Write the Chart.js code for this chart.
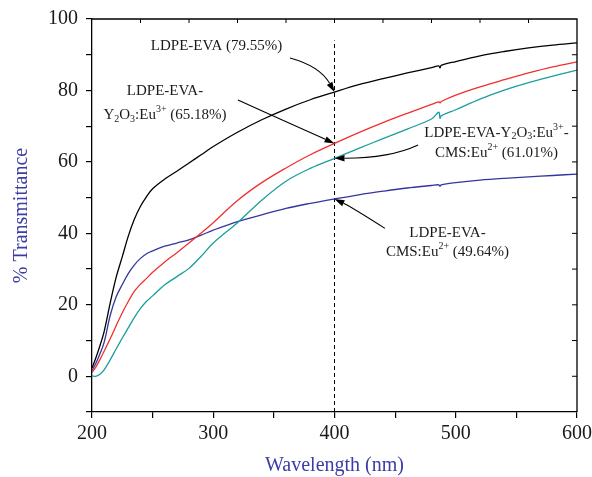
<!DOCTYPE html>
<html>
<head>
<meta charset="utf-8">
<script src="https://cdn.jsdelivr.net/npm/chart.js@4.4.0/dist/chart.umd.min.js"></script>
<style>
  html, body { margin: 0; padding: 0; background: #fff; }
  #wrap { width: 592px; height: 477px; position: relative; }
</style>
</head>
<body>
<div id="wrap"><canvas id="spectra"></canvas></div>
<script>
// Transmittance spectra, values
const wavelengths = [200, 203, 206, 210, 215, 220, 225, 230, 235, 240, 245, 250, 260, 270, 280, 290, 300, 320, 340, 360, 380, 400, 420, 440, 460, 480, 486, 487, 488, 500, 520, 540, 560, 580, 600];
const ldpeEva =      [2.3, 5, 8, 12.5, 20.5, 27.8, 33.5, 39.3, 44, 47.6, 50.3, 52.5, 55.2, 57.4, 59.7, 62, 64.3, 68.3, 71.8, 74.8, 77.4, 79.55, 81.6, 83.3, 84.9, 86.4, 86.9, 86.3, 87.0, 88.1, 89.7, 90.9, 91.9, 92.7, 93.3];
const ldpeEvaY =     [1.1, 2.5, 4.3, 7, 10.5, 14.2, 17.8, 21, 23.8, 25.8, 27.4, 29.1, 32, 34.6, 37.3, 40.1, 43, 49.2, 54.2, 58.3, 62, 65.18, 68.2, 71, 73.6, 76.1, 76.8, 76.5, 76.9, 78.7, 81, 83, 84.9, 86.6, 88];
const ldpeEvaYCms =  [0.1, 0, 0.4, 1.8, 4.6, 7.7, 10.7, 13.6, 16.5, 19, 21, 22.5, 25.6, 27.9, 30.2, 33.6, 37.3, 43, 49.3, 54.6, 58.2, 61.01, 63.8, 66.5, 69.2, 72, 73.9, 72.2, 72.9, 74.6, 77.6, 80.1, 82.2, 84.0, 85.7];
const ldpeEvaCms =   [1.6, 3.5, 5.8, 9.5, 17, 22.3, 25.7, 28.8, 31.2, 33.0, 34.3, 35.1, 36.4, 37.3, 38.2, 39.5, 40.9, 43.3, 45.2, 47, 48.4, 49.64, 50.8, 51.8, 52.7, 53.4, 53.6, 53.2, 53.6, 54.2, 54.9, 55.4, 55.8, 56.2, 56.6];

// dashed guide at 400 nm
const markerX = [400, 400];
const markerY = [-10, 94];

const FONT = '"Liberation Serif", "DejaVu Serif", serif';
const AXIS_BLUE = '#3c3ca6';

function toPoints(xs, ys) {
  return xs.map((x, i) => ({ x: x, y: ys[i] }));
}

// callouts: text lines (parts: [text, 'sup'|'sub'|undefined]) at data positions, arrow in data units
const callouts = [
  {
    lines: [{ at: [302.7, 92.3], parts: [['LDPE-EVA (79.55%)']] }],
    arrow: { from: [363.3, 89.1], ctrl: [388, 86.8], to: [400, 79.55] }
  },
  {
    lines: [
      { at: [260.2, 79.9], parts: [['LDPE-EVA-']] },
      { at: [260.2, 73.2], parts: [['Y'], ['2', 'sub'], ['O'], ['3', 'sub'], [':Eu'], ['3+', 'sup'], [' (65.18%)']] }
    ],
    arrow: { from: [320.4, 77.3], ctrl: [360, 71.2], to: [400, 65.18] }
  },
  {
    lines: [
      { at: [533.6, 68.2], parts: [['LDPE-EVA-Y'], ['2', 'sub'], ['O'], ['3', 'sub'], [':Eu'], ['3+', 'sup'], ['-']] },
      { at: [533.6, 62.4], parts: [['CMS:Eu'], ['2+', 'sup'], [' (61.01%)']] }
    ],
    arrow: { from: [468.9, 64.7], ctrl: [445.8, 61.0], to: [400, 61.01] }
  },
  {
    lines: [
      { at: [493.2, 40.1], parts: [['LDPE-EVA-']] },
      { at: [493.2, 34.7], parts: [['CMS:Eu'], ['2+', 'sup'], [' (49.64%)']] }
    ],
    arrow: { from: [441.6, 41.4], ctrl: [414.4, 47.3], to: [400, 49.64] }
  }
];

function drawRich(ctx, parts, cx, cy, size) {
  const small = Math.round(size * 0.66);
  let total = 0;
  parts.forEach(p => {
    ctx.font = (p[1] ? small : size) + 'px ' + FONT;
    total += ctx.measureText(p[0]).width;
  });
  let x = cx - total / 2;
  ctx.textAlign = 'left';
  ctx.textBaseline = 'middle';
  parts.forEach(p => {
    ctx.font = (p[1] ? small : size) + 'px ' + FONT;
    let dy = 0;
    if (p[1] === 'sup') dy = -size * 0.38;
    if (p[1] === 'sub') dy = size * 0.28;
    ctx.fillText(p[0], x, cy + dy);
    x += ctx.measureText(p[0]).width;
  });
}

const decorPlugin = {
  id: 'decor',
  afterDatasetsDraw(chart) {
    const ctx = chart.ctx;
    const xs = chart.scales.x, ys = chart.scales.y;
    const area = chart.chartArea;
    ctx.save();

    // frame with inward ticks on top and right
    ctx.strokeStyle = '#000';
    ctx.lineWidth = 1.3;
    ctx.beginPath();
    ctx.moveTo(area.left, area.top);
    ctx.lineTo(area.right, area.top);
    ctx.lineTo(area.right, area.bottom);
    ctx.stroke();
    ctx.lineWidth = 1;
    ctx.beginPath();
    for (let w = 240; w < 600; w += 40) {
      const px = xs.getPixelForValue(w);
      ctx.moveTo(px, area.top);
      ctx.lineTo(px, area.top + 4);
    }
    for (let v = 0; v < 100; v += 10) {
      const py = ys.getPixelForValue(v);
      ctx.moveTo(area.right, py);
      ctx.lineTo(area.right - 5, py);
    }
    ctx.stroke();

    // callouts
    ctx.fillStyle = '#1a1a1a';
    ctx.strokeStyle = '#000';
    callouts.forEach(c => {
      c.lines.forEach(l => {
        drawRich(ctx, l.parts, xs.getPixelForValue(l.at[0]), ys.getPixelForValue(l.at[1]), 15);
      });
      const a = c.arrow;
      const p0 = [xs.getPixelForValue(a.from[0]), ys.getPixelForValue(a.from[1])];
      const p1 = [xs.getPixelForValue(a.ctrl[0]), ys.getPixelForValue(a.ctrl[1])];
      const p2 = [xs.getPixelForValue(a.to[0]), ys.getPixelForValue(a.to[1])];
      const ang = Math.atan2(p2[1] - p1[1], p2[0] - p1[0]);
      const len = 10, half = 3.2;
      const bx = p2[0] - len * Math.cos(ang), by = p2[1] - len * Math.sin(ang);
      ctx.lineWidth = 1.1;
      ctx.beginPath();
      ctx.moveTo(p0[0], p0[1]);
      ctx.quadraticCurveTo(p1[0], p1[1], bx, by);
      ctx.stroke();
      ctx.beginPath();
      ctx.moveTo(p2[0], p2[1]);
      ctx.lineTo(bx + half * Math.sin(ang), by - half * Math.cos(ang));
      ctx.lineTo(bx - half * Math.sin(ang), by + half * Math.cos(ang));
      ctx.closePath();
      ctx.fillStyle = '#000';
      ctx.fill();
      ctx.fillStyle = '#1a1a1a';
    });

    // axis titles
    ctx.fillStyle = AXIS_BLUE;
    ctx.font = '20px ' + FONT;
    ctx.textAlign = 'center';
    ctx.textBaseline = 'middle';
    ctx.fillText('Wavelength (nm)', (area.left + area.right) / 2, 466);
    ctx.translate(22, (area.top + area.bottom) / 2);
    ctx.rotate(-Math.PI / 2);
    ctx.fillText('% Transmittance', 0, 0);
    ctx.restore();
  }
};

const lineStyle = { pointRadius: 0, borderWidth: 1.3, tension: 0.35, fill: false };

new Chart(document.getElementById('spectra').getContext('2d'), {
  type: 'line',
  data: {
    datasets: [
      Object.assign({ label: 'LDPE-EVA', data: toPoints(wavelengths, ldpeEva), borderColor: '#000000' }, lineStyle),
      Object.assign({ label: 'LDPE-EVA-Y2O3:Eu3+', data: toPoints(wavelengths, ldpeEvaY), borderColor: '#f03030' }, lineStyle),
      Object.assign({ label: 'LDPE-EVA-Y2O3:Eu3+-CMS:Eu2+', data: toPoints(wavelengths, ldpeEvaYCms), borderColor: '#1a9e9e' }, lineStyle),
      Object.assign({ label: 'LDPE-EVA-CMS:Eu2+', data: toPoints(wavelengths, ldpeEvaCms), borderColor: '#3535a0' }, lineStyle),
      {
        label: '400 nm',
        data: toPoints(markerX, markerY),
        borderColor: '#000',
        borderWidth: 1,
        borderDash: [4, 3],
        pointRadius: 0,
        fill: false
      }
    ]
  },
  options: {
    responsive: true,
    maintainAspectRatio: false,
    animation: false,
    layout: { padding: { top: 19, right: 15, left: 0, bottom: 0 } },
    plugins: {
      legend: { display: false },
      tooltip: { enabled: false }
    },
    scales: {
      x: {
        type: 'linear',
        min: 200,
        max: 600,
        afterFit: s => { s.height = 65; s.paddingRight = 0; s.paddingLeft = 0; },
        ticks: {
          stepSize: 50,
          autoSkip: false,
          maxRotation: 0,
          padding: 4,
          color: '#1a1a1a',
          font: { family: FONT, size: 20 },
          callback: v => (v % 100 === 0 ? v : '')
        },
        grid: { drawOnChartArea: false, tickLength: 6, color: '#000', lineWidth: 1.2 },
        border: { color: '#000', width: 1.3 }
      },
      y: {
        min: -10,
        max: 100,
        afterFit: s => { s.width = 92; s.paddingTop = 0; s.paddingBottom = 0; },
        ticks: {
          stepSize: 10,
          autoSkip: false,
          padding: 8,
          color: '#1a1a1a',
          font: { family: FONT, size: 20 },
          callback: v => (v >= 0 && v % 20 === 0 ? v : '')
        },
        grid: { drawOnChartArea: false, tickLength: 6, color: '#000', lineWidth: 1.2 },
        border: { color: '#000', width: 1.3 }
      }
    }
  },
  plugins: [decorPlugin]
});
</script>
</body>
</html>
